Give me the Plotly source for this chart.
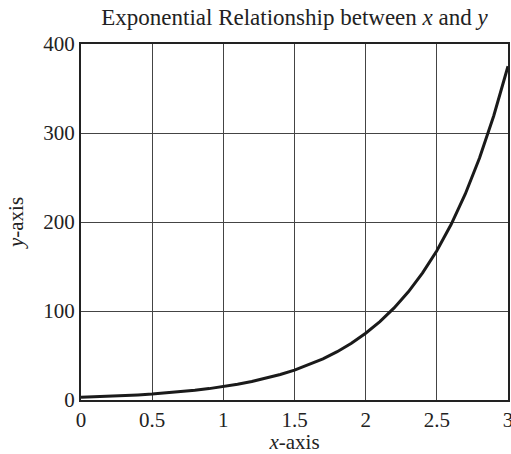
import plotly.graph_objects as go

x_vals = [0.0, 0.1, 0.2, 0.3, 0.4, 0.5, 0.6, 0.7, 0.8, 0.9, 1.0,
          1.1, 1.2, 1.3, 1.4, 1.5, 1.6, 1.7, 1.8, 1.9, 2.0,
          2.1, 2.2, 2.3, 2.4, 2.5, 2.6, 2.7, 2.8, 2.9, 3.0]
y_vals = [3, 3.5, 4.1, 4.9, 5.7, 6.7, 7.9, 9.3, 10.9, 12.8, 15,
          17.6, 20.7, 24.3, 28.6, 33.5, 39.4, 46.2, 54.3, 63.8, 75,
          88.1, 103.5, 121.6, 142.8, 167.7, 197.1, 231.5, 271.9, 319.4, 375]
x_ticks = [0, 0.5, 1, 1.5, 2, 2.5, 3]
x_tick_text = ["0", "0.5", "1", "1.5", "2", "2.5", "3"]
y_ticks = [0, 100, 200, 300, 400]

font = "Liberation Serif, Times New Roman, serif"

fig = go.Figure(go.Scatter(x=x_vals, y=y_vals, mode="lines",
                           line=dict(color="#1a1a1a", width=3), showlegend=False))

fig.update_layout(
    width=511, height=454,
    margin=dict(l=81, r=3, t=44, b=54, autoexpand=False),
    paper_bgcolor="white", plot_bgcolor="white",
    font=dict(family=font, size=21, color="#222"),
    title=dict(text="Exponential Relationship between <i>x</i> and <i>y</i>",
               x=0.5, xref="paper", xanchor="center",
               y=1, yref="paper", yanchor="bottom", pad=dict(b=19),
               font=dict(family=font, size=23, color="#222")),
)
fig.update_xaxes(range=[0, 3], tickvals=x_ticks, ticktext=x_tick_text,
                 showgrid=True, gridcolor="#444", gridwidth=1,
                 showline=True, linecolor="#222", linewidth=2, mirror=True,
                 zeroline=False, ticks="", ticklen=0, automargin=False,
                 ticklabeloverflow="allow",
                 title=dict(text="<i>x</i>-axis", standoff=4,
                            font=dict(family=font, size=21, color="#222")))
fig.update_yaxes(range=[0, 400], tickvals=y_ticks,
                 showgrid=True, gridcolor="#444", gridwidth=1,
                 showline=True, linecolor="#222", linewidth=2, mirror=True,
                 zeroline=False, ticks="", ticklen=0, automargin=False,
                 title=dict(text="<i>y</i>-axis", standoff=14,
                            font=dict(family=font, size=21, color="#222")))

fig.write_html("out.html", config={"displayModeBar": False},
               post_script="document.body.style.margin='0';")
